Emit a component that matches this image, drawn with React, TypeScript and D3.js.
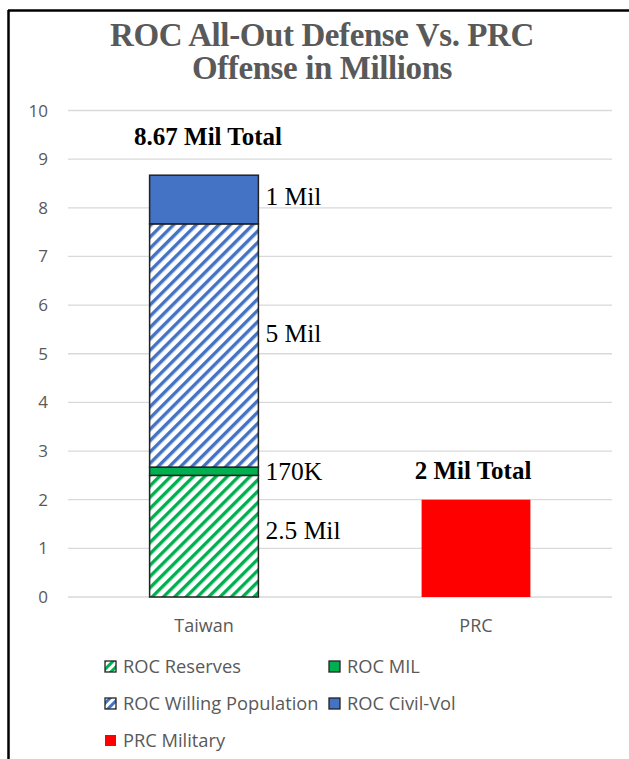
import React from "react";
import * as d3 from "d3";

const categories = ["Taiwan", "PRC"];
const seriesNames = ["ROC Reserves", "ROC MIL", "ROC Willing Population", "ROC Civil-Vol", "PRC Military"];
const taiwanValues = [2.5, 0.17, 5, 1, 0];
const prcValues = [0, 0, 0, 0, 2];
const segmentLabels = ["2.5 Mil", "170K", "5 Mil", "1 Mil", ""];
const totalLabels = ["8.67 Mil Total", "2 Mil Total"];
const yTicks = [0, 1, 2, 3, 4, 5, 6, 7, 8, 9, 10];
const titleLines = ["ROC All-Out Defense Vs. PRC", "Offense in Millions"];

const GREEN = "#00b050";
const BLUE = "#4472c4";
const RED = "#ff0000";
const SERIF = "Liberation Serif, Times New Roman, serif";
const SANS = "Open Sans, Noto Sans, sans-serif";

export default function App() {
  const W = 629, H = 759;
  const x = d3.scaleBand<string>().domain(categories).range([68, 612]).paddingInner(0).paddingOuter(0);
  const y = d3.scaleLinear().domain([0, 10]).range([597, 110.5]);
  const bw = x.bandwidth() * 0.4;

  const fills = ["url(#hatchGreen)", GREEN, "url(#hatchBlue)", BLUE, RED];
  const strokes = ["#222", "#222", "#222", "#222", "none"];

  const data = [taiwanValues, prcValues];
  const stacks = data.map((vals) => {
    let acc = 0;
    return vals.map((v) => {
      const s = { y0: acc, y1: acc + v, v };
      acc += v;
      return s;
    });
  });
  const totals = data.map((vals) => d3.sum(vals));

  const labelOffsets = [-6, 0, -12, -4, 0];

  const legendItems = [
    { i: 0, x: 105, y: 666 },
    { i: 1, x: 329, y: 666 },
    { i: 2, x: 105, y: 703 },
    { i: 3, x: 329, y: 703 },
    { i: 4, x: 105, y: 740 },
  ];

  return (
    <svg width={W} height={H} style={{ position: "absolute", left: 0, top: 0 }}>
      <defs>
        <pattern id="hatchGreen" patternUnits="userSpaceOnUse" width="8" height="8" patternTransform="rotate(45)">
          <rect width="8" height="8" fill="#fff" />
          <rect width="3.4" height="8" fill={GREEN} />
        </pattern>
        <pattern id="hatchBlue" patternUnits="userSpaceOnUse" width="8" height="8" patternTransform="rotate(45)">
          <rect width="8" height="8" fill="#fff" />
          <rect width="3.4" height="8" fill={BLUE} />
        </pattern>
        <pattern id="hatchGreenSm" patternUnits="userSpaceOnUse" width="6" height="6" patternTransform="rotate(45)">
          <rect width="6" height="6" fill="#fff" />
          <rect width="3" height="6" fill={GREEN} />
        </pattern>
        <pattern id="hatchBlueSm" patternUnits="userSpaceOnUse" width="6" height="6" patternTransform="rotate(45)">
          <rect width="6" height="6" fill="#fff" />
          <rect width="3" height="6" fill={BLUE} />
        </pattern>
      </defs>
      <rect x={0} y={0} width={W} height={H} fill="#fff" />
      <line x1={8.5} y1={10} x2={8.5} y2={H} stroke="#000" strokeWidth={2.5} />
      <line x1={8} y1={10.5} x2={W} y2={10.5} stroke="#000" strokeWidth={2.5} />

      {titleLines.map((t, i) => (
        <text key={t} x={322} y={46 + i * 33} textAnchor="middle" fontFamily={SERIF}
          fontWeight="bold" fontSize={33} fill="#595959" letterSpacing={-0.4}>{t}</text>
      ))}

      {yTicks.map((t) => (
        <g key={t}>
          <line x1={68} x2={612} y1={y(t)} y2={y(t)} stroke="#d9d9d9" strokeWidth={1.3} />
          <text x={48} y={y(t) + 6} textAnchor="end" fontFamily={SANS} fontSize={17} fill="#595959">{t}</text>
        </g>
      ))}

      {stacks.map((segs, ci) => {
        const cx = (x(categories[ci]) as number) + x.bandwidth() / 2;
        return (
          <g key={ci}>
            {segs.map((s, si) => s.v > 0 ? (
              <rect key={si} x={cx - bw / 2} y={y(s.y1)} width={bw} height={y(s.y0) - y(s.y1)}
                fill={fills[si]} stroke={strokes[si]} strokeWidth={1.5} />
            ) : null)}
            {ci === 0 && segs.map((s, si) => s.v > 0 && segmentLabels[si] ? (
              <text key={"l" + si} x={cx + bw / 2 + 7} y={y((s.y0 + s.y1) / 2) + 9 + labelOffsets[si]}
                fontFamily={SERIF} fontSize={25.5} fill="#000">{segmentLabels[si]}</text>
            ) : null)}
            <text x={cx + (ci === 0 ? 4 : -3)} y={y(totals[ci]) - 30 + (ci === 0 ? 0 : 9)} textAnchor="middle"
              fontFamily={SERIF} fontWeight="bold" fontSize={25} fill="#000">{totalLabels[ci]}</text>
            <text x={cx} y={632} textAnchor="middle" fontFamily={SANS} fontSize={18} fill="#595959">{categories[ci]}</text>
          </g>
        );
      })}

      {legendItems.map(({ i, x: lx, y: ly }) => {
        const sw = i === 0 ? "url(#hatchGreenSm)" : i === 2 ? "url(#hatchBlueSm)" : fills[i];
        return (
          <g key={i}>
            <rect x={lx} y={ly - 5} width={11} height={11} fill={sw} stroke={i === 4 ? "none" : "#222"} strokeWidth={1.3} />
            <text x={lx + 18} y={ly + 6.5} fontFamily={SANS} fontSize={18.3} fill="#595959">{seriesNames[i]}</text>
          </g>
        );
      })}
    </svg>
  );
}
